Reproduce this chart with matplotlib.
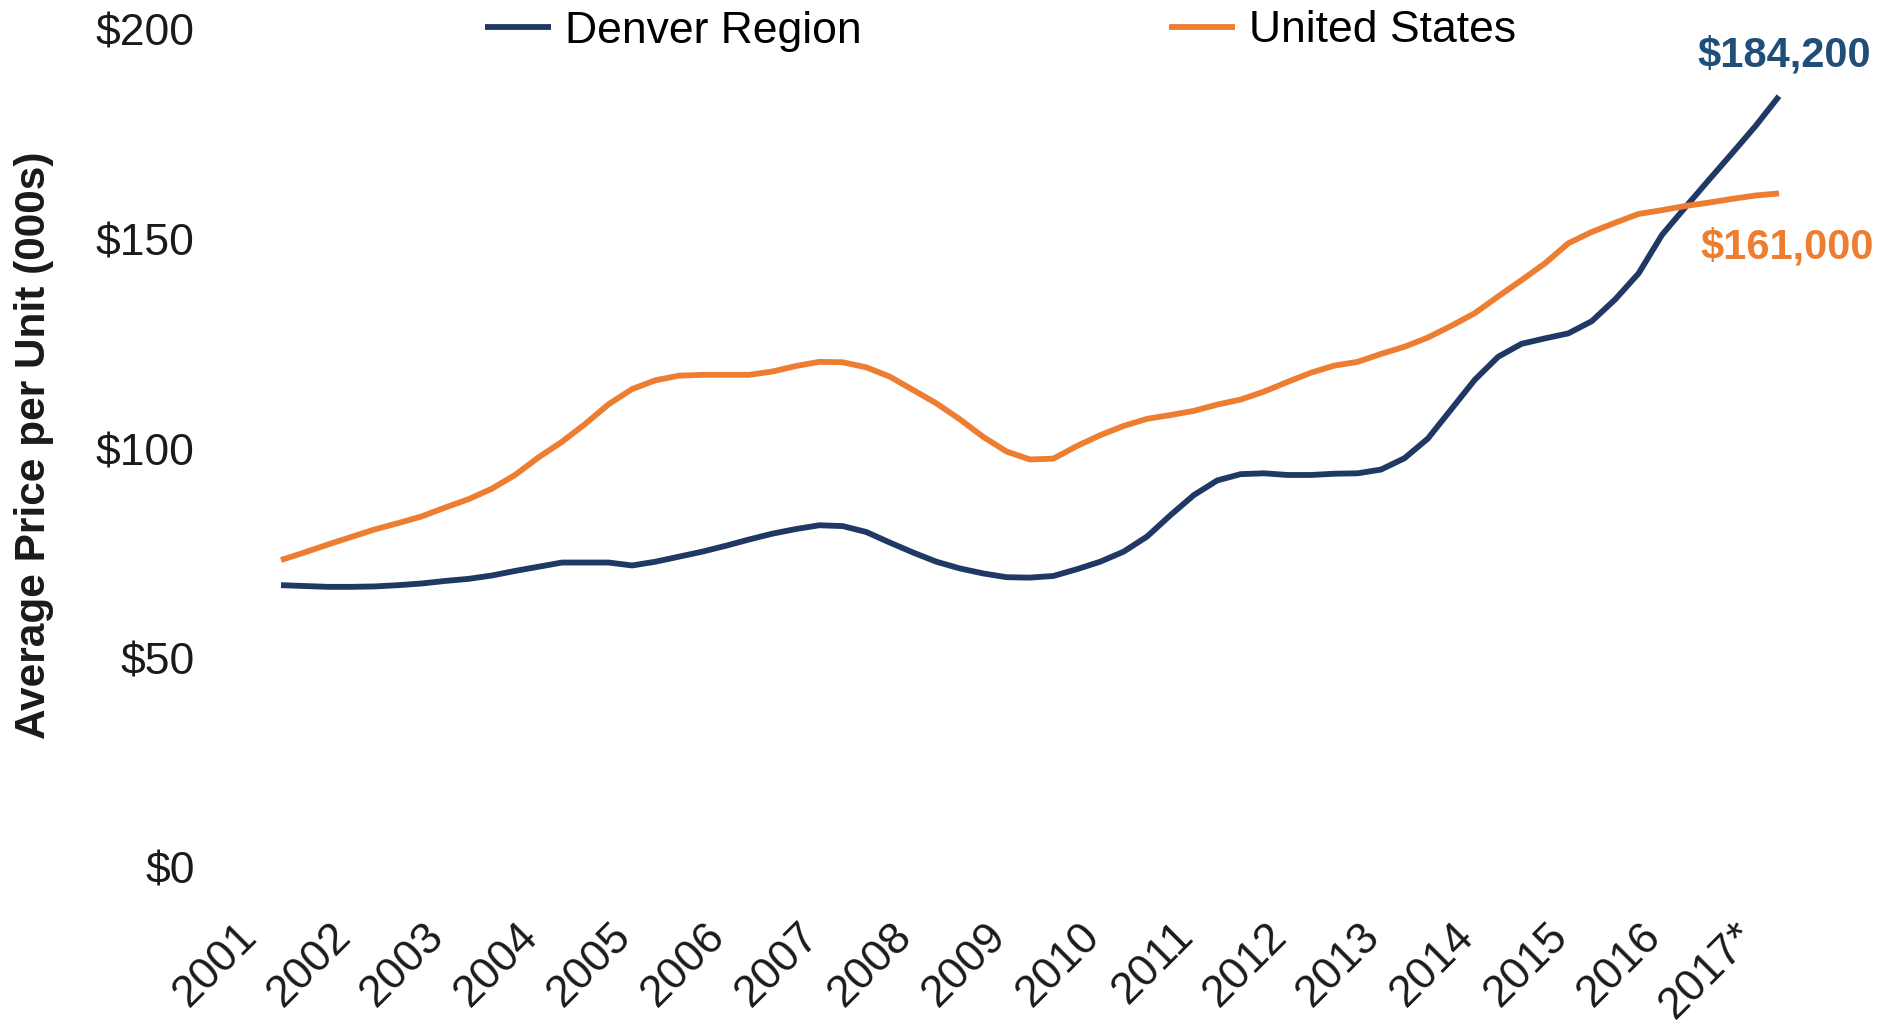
import matplotlib.pyplot as plt
import matplotlib.transforms as mtransforms
import numpy as np

plt.rcParams['font.family'] = ['Liberation Sans', 'DejaVu Sans']

# quarterly averages, 2001 Q1 .. 2017 Q1 (thousands of dollars)
denver = [67.5, 67.3, 67.1, 67.1, 67.2, 67.5, 67.9, 68.5,
          69.0, 69.8, 70.9, 71.9, 72.9, 72.9, 72.9, 72.2,
          73.1, 74.3, 75.5, 76.9, 78.4, 79.8, 80.9, 81.8,
          81.6, 80.2, 77.7, 75.3, 73.1, 71.5, 70.3, 69.4,
          69.3, 69.7, 71.3, 73.1, 75.5, 79.1, 84.2, 89.0,
          92.5, 94.0, 94.2, 93.8, 93.8, 94.1, 94.2, 95.1,
          97.8, 102.5, 109.5, 116.5, 122.0, 125.1, 126.4, 127.6,
          130.5, 135.7, 141.9, 151.1, 157.7, 164.2, 170.6, 177.1,
          184.2]
us = [73.5, 75.3, 77.2, 79.0, 80.8, 82.3, 83.9, 86.0,
      88.0, 90.5, 93.8, 98.0, 101.7, 106.0, 110.7, 114.3,
      116.4, 117.5, 117.7, 117.7, 117.7, 118.5, 119.8, 120.8,
      120.7, 119.5, 117.3, 114.1, 110.9, 107.1, 102.9, 99.4,
      97.5, 97.7, 100.7, 103.3, 105.5, 107.2, 108.1, 109.1,
      110.6, 111.8, 113.7, 116.0, 118.2, 119.9, 120.8, 122.7,
      124.4, 126.6, 129.4, 132.4, 136.4, 140.3, 144.3, 149.1,
      151.8, 154.0, 156.1, 157.0, 158.0, 158.8, 159.7, 160.5,
      161.0]
years = ['2001', '2002', '2003', '2004', '2005', '2006', '2007', '2008', '2009',
         '2010', '2011', '2012', '2013', '2014', '2015', '2016', '2017*']
yticks = [0, 50, 100, 150, 200]

navy = '#1F3864'
orange = '#ED7D31'

fig = plt.figure(figsize=(19, 10.23), dpi=100)
ax = fig.add_axes([281/1900, 155/1023, 1498/1900, 838/1023])

x = np.arange(len(denver))
ax.plot(x, denver, color=navy, lw=4.2, label='Denver Region', clip_on=False, solid_capstyle='butt')
ax.plot(x, us, color=orange, lw=4.2, label='United States', clip_on=False, solid_capstyle='butt')

ax.set_xlim(0, len(denver) - 1)
ax.set_ylim(0, 200)
ax.set_yticks(yticks)
ax.set_yticklabels(['$%d' % v for v in yticks], fontsize=32, color='#1a1a1a')
ax.set_xticks(np.arange(0, len(denver), 4))
ax.set_xticklabels(years, fontsize=32, rotation=45, ha='right', va='top', color='#1a1a1a')
ax.tick_params(axis='y', length=0, pad=62)
ax.tick_params(axis='x', length=0, pad=34)
shift = mtransforms.ScaledTranslation(-0.16, 0, fig.dpi_scale_trans)
for lab in ax.get_xticklabels():
    lab.set_transform(lab.get_transform() + shift)
for s in ax.spines.values():
    s.set_visible(False)

fig.text(34/1900, 1 - 445/1023, 'Average Price per Unit (000s)', rotation=90,
         ha='center', va='center', fontsize=30.5, fontweight='bold', color='#1a1a1a')

fig.legend(loc='center left', bbox_to_anchor=(485/1900, 1 - 31/1023), ncol=2, frameon=False,
           fontsize=32, handlelength=1.48, handletextpad=0.33, columnspacing=6.9,
           borderpad=0, borderaxespad=0)

ax.annotate('$%s' % format(int(round(denver[-1] * 1000)), ','), xy=(x[-1], denver[-1]),
            xytext=(4, 29), textcoords='offset points', ha='center', va='center',
            fontsize=30, fontweight='bold', color='#1F4E79')
ax.annotate('$%s' % format(int(round(us[-1] * 1000)), ','), xy=(x[-1], us[-1]),
            xytext=(6, -39), textcoords='offset points', ha='center', va='center',
            fontsize=30, fontweight='bold', color=orange)

plt.savefig('out.png', dpi=100)
